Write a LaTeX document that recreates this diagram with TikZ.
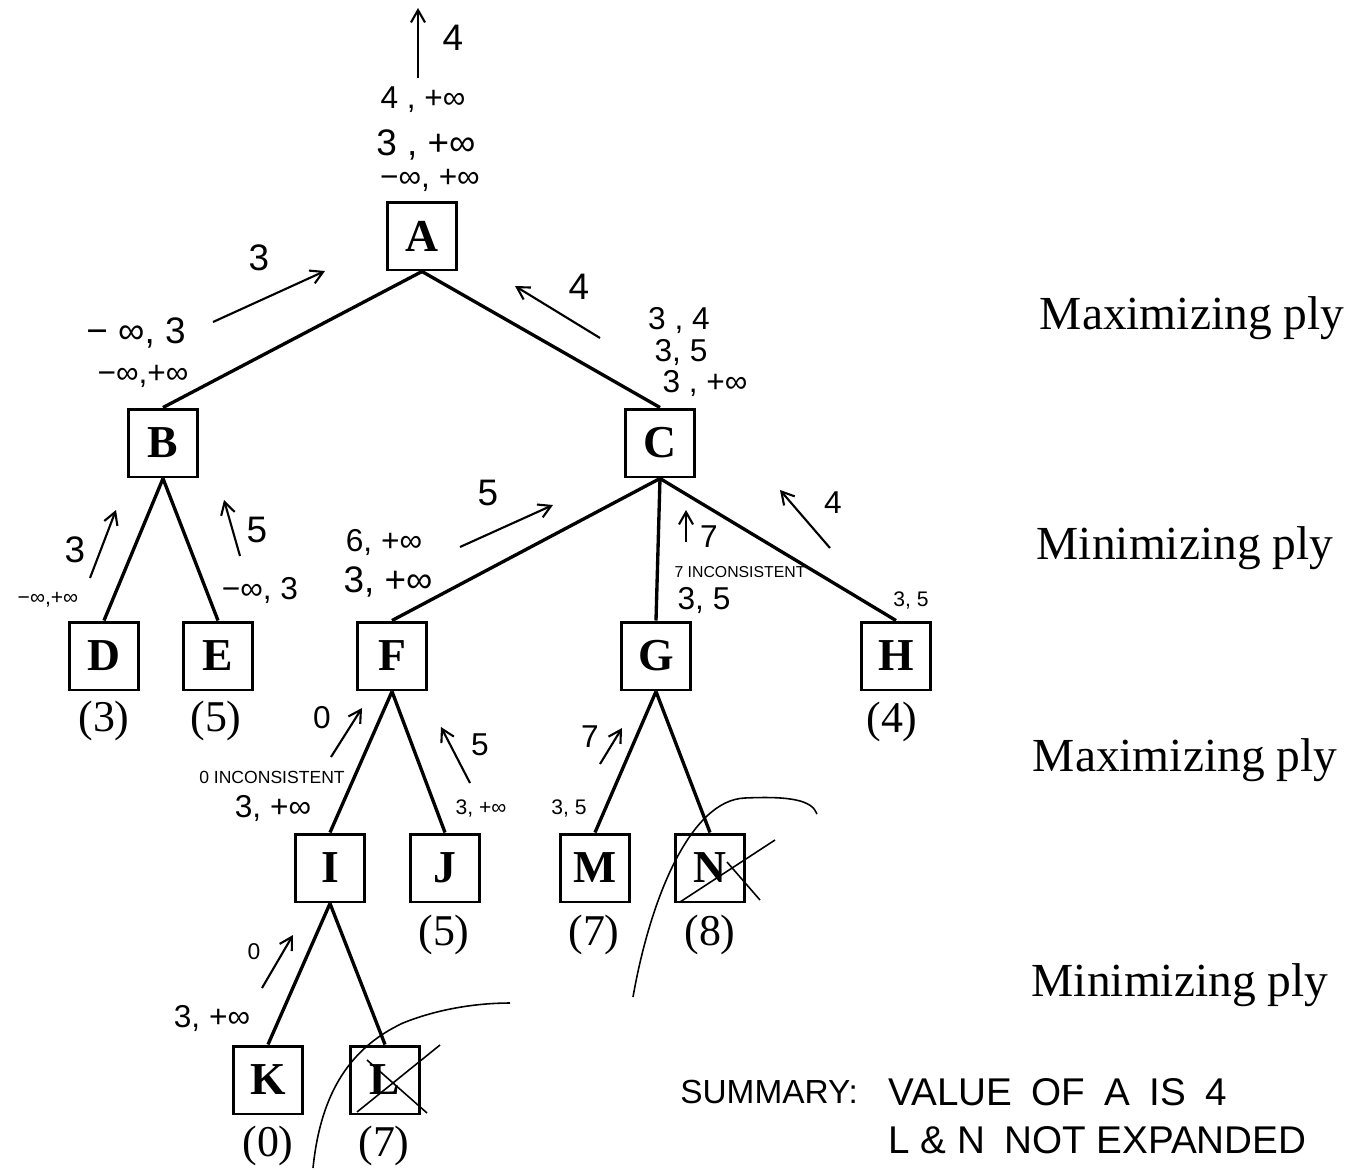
\documentclass[tikz,border=0pt]{standalone}
\usepackage{fontspec}
\setmainfont{Liberation Serif}
\newfontfamily\hand{Liberation Sans}
\usetikzlibrary{arrows.meta}
\begin{document}
\begin{tikzpicture}[x=0.02cm,y=-0.02cm,
 tnode/.style={draw, line width=1.7pt, minimum width=1.38cm, minimum height=1.36cm, inner sep=0pt, font=\fontsize{26}{28}\selectfont\bfseries},
 edge/.style={line width=1.9pt},
 leafv/.style={font=\fontsize{25}{27}\selectfont, inner sep=0pt},
 ply/.style={font=\fontsize{27}{30}\selectfont, inner sep=0pt},
 hw/.style={font=\hand\fontsize{18}{20}\selectfont, inner sep=0pt},
 hwb/.style={font=\hand\fontsize{21}{23}\selectfont, inner sep=0pt},
 hws/.style={font=\hand\fontsize{8}{9}\selectfont, inner sep=0pt},
 harrow/.style={line width=1.2pt, -{Straight Barb[length=7pt,width=8pt]}},
 prune/.style={line width=0.9pt},
 summ/.style={font=\hand\fontsize{22}{24}\selectfont, inner sep=0pt, anchor=west}]
\useasboundingbox (0,0) rectangle (1353,1170);
% tree nodes
\node[tnode] (A) at (422,236) {A};
\node[tnode] (B) at (163,443) {B};
\node[tnode] (C) at (660,443) {C};
\node[tnode] (D) at (104,656) {D};
\node[tnode] (E) at (218,656) {E};
\node[tnode] (F) at (392,656) {F};
\node[tnode] (G) at (656,656) {G};
\node[tnode] (H) at (896,656) {H};
\node[tnode] (I) at (330,868) {I};
\node[tnode] (J) at (445,868) {J};
\node[tnode] (M) at (595,868) {M};
\node[tnode] (N) at (710,868) {N};
\node[tnode] (K) at (268,1080) {K};
\node[tnode] (L) at (385,1080) {L};
% edges
\draw[edge] (A.south) -- (B.north);
\draw[edge] (A.south) -- (C.north);
\draw[edge] (B.south) -- (D.north);
\draw[edge] (B.south) -- (E.north);
\draw[edge] (C.south) -- (F.north);
\draw[edge] (C.south) -- (G.north);
\draw[edge] (C.south) -- (H.north);
\draw[edge] (F.south) -- (I.north);
\draw[edge] (F.south) -- (J.north);
\draw[edge] (G.south) -- (M.north);
\draw[edge] (G.south) -- (N.north);
\draw[edge] (I.south) -- (K.north);
\draw[edge] (I.south) -- (L.north);
% leaf values
\node[leafv] (vD) at (104,721) {(3)};
\node[leafv] (vE) at (216,721) {(5)};
\node[leafv] (vH) at (892,722) {(4)};
\node[leafv] (vJ) at (444,935) {(5)};
\node[leafv] (vM) at (594,935) {(7)};
\node[leafv] (vN) at (710,935) {(8)};
\node[leafv] (vK) at (268,1146) {(0)};
\node[leafv] (vL) at (384,1146) {(7)};
% ply labels
\node[ply] (p1) at (1192,318) {Maximizing ply};
\node[ply] (p2) at (1185,548) {Minimizing ply};
\node[ply] (p3) at (1185,760) {Maximizing ply};
\node[ply] (p4) at (1180,985) {Minimizing ply};
% annotations at A
\coordinate (t1) at (418,78);
\coordinate (t2) at (418,8);
\draw[harrow] (t1) -- (t2);
\node[hwb] (l4top) at (453,38) {4};
\node[hw] (a1) at (423,100) {4 ,  +∞};
\node[hwb] (a2) at (426,145) {3 , +∞};
\node[hw] (a3) at (430,180) {−∞, +∞};
% A-B
\node[hwb] (l3ab) at (259,258) {3};
\coordinate (ab1) at (213,322);
\coordinate (ab2) at (325,271);
\draw[harrow] (ab1) -- (ab2);
\node[hwb] (b1) at (136,333) {− ∞, 3};
\node[hw] (b2) at (143,376) {−∞,+∞};
% A-C
\node[hwb] (l4ac) at (579,287) {4};
\coordinate (ac1) at (600,338);
\coordinate (ac2) at (515,286);
\draw[harrow] (ac1) -- (ac2);
\node[hw] (c1) at (679,320) {3 , 4};
\node[hw] (c2) at (681,352) {3, 5};
\node[hw] (c3) at (705,383) {3 , +∞};
% B-D
\coordinate (bd1) at (90,578);
\coordinate (bd2) at (116,510);
\draw[harrow] (bd1) -- (bd2);
\node[hwb] (l3bd) at (75,550) {3};
\node[hws,font=\hand\fontsize{12}{13}\selectfont] (d1) at (48,600) {−∞,+∞};
% B-E
\coordinate (be1) at (240,556);
\coordinate (be2) at (224,500);
\draw[harrow] (be1) -- (be2);
\node[hwb] (l5be) at (257,530) {5};
\node[hw] (e1) at (260,590) {−∞, 3};
% C-F
\node[hwb] (l5cf) at (488,493) {5};
\coordinate (cf1) at (460,547);
\coordinate (cf2) at (553,505);
\draw[harrow] (cf1) -- (cf2);
\node[hw] (f1) at (384,542) {6, +∞};
\node[hwb] (f2) at (388,582) {3, +∞};
% C-G
\coordinate (cg1) at (686,542);
\coordinate (cg2) at (686,510);
\draw[harrow] (cg1) -- (cg2);
\node[hw] (l7cg) at (709,537) {7};
\node[hws,font=\hand\fontsize{9}{10}\selectfont] (g1) at (740,572) {7 INCONSISTENT};
\node[hw] (g2) at (704,600) {3, 5};
% C-H
\node[hw] (l4ch) at (833,503) {4};
\coordinate (ch1) at (830,548);
\coordinate (ch2) at (780,490);
\draw[harrow] (ch1) -- (ch2);
\node[hws,font=\hand\fontsize{12}{13}\selectfont] (h1) at (911,600) {3, 5};
% F-I
\node[hw] (l0fi) at (322,718) {0};
\coordinate (fi1) at (331,757);
\coordinate (fi2) at (362,708);
\draw[harrow] (fi1) -- (fi2);
\node[hws,font=\hand\fontsize{10}{11}\selectfont] (i1) at (272,777) {0 INCONSISTENT};
\node[hw] (i2) at (273,808) {3, +∞};
% F-J
\node[hw] (l5fj) at (480,745) {5};
\coordinate (fj1) at (470,783);
\coordinate (fj2) at (441,727);
\draw[harrow] (fj1) -- (fj2);
\node[hws,font=\hand\fontsize{12}{13}\selectfont] (j1) at (481,808) {3, +∞};
% G-M
\node[hw] (l7gm) at (590,737) {7};
\coordinate (gm1) at (600,764);
\coordinate (gm2) at (622,728);
\draw[harrow] (gm1) -- (gm2);
\node[hws,font=\hand\fontsize{12}{13}\selectfont] (m1) at (569,808) {3, 5};
% I-K
\node[hws,font=\hand\fontsize{13}{14}\selectfont] (l0ik) at (254,952) {0};
\coordinate (ik1) at (262,988);
\coordinate (ik2) at (293,935);
\draw[harrow] (ik1) -- (ik2);
\node[hw] (k1) at (212,1018) {3, +∞};
% pruning marks on N
\coordinate (nx1) at (680,902);
\coordinate (nx2) at (775,840);
\coordinate (ny1) at (727,862);
\coordinate (ny2) at (760,900);
\draw[prune] (nx1) -- (nx2);
\draw[prune] (ny1) -- (ny2);
\coordinate (nc1) at (633,997);
\coordinate (nc2) at (817,814);
\draw[prune] (nc1) .. controls (650,900) and (690,800) .. (745,798) .. controls (790,796) and (812,800) .. (nc2);
% pruning marks on L
\coordinate (lx1) at (357,1112);
\coordinate (lx2) at (440,1045);
\coordinate (ly1) at (367,1060);
\coordinate (ly2) at (427,1113);
\draw[prune] (lx1) -- (lx2);
\draw[prune] (ly1) -- (ly2);
\coordinate (lc1) at (313,1168);
\coordinate (lc2) at (510,1003);
\draw[prune] (lc1) .. controls (320,1100) and (345,1050) .. (403,1023) .. controls (440,1008) and (480,1003) .. (lc2);
% summary
\node[summ,font=\hand\fontsize{19}{21}\selectfont] (s1) at (680,1092) {SUMMARY:};
\node[summ] (s2) at (888,1092) {VALUE\enspace OF\enspace  A\enspace  IS\enspace  4};
\node[summ] (s3) at (888,1140) {L \& N\enspace NOT EXPANDED};
\end{tikzpicture}
\end{document}
